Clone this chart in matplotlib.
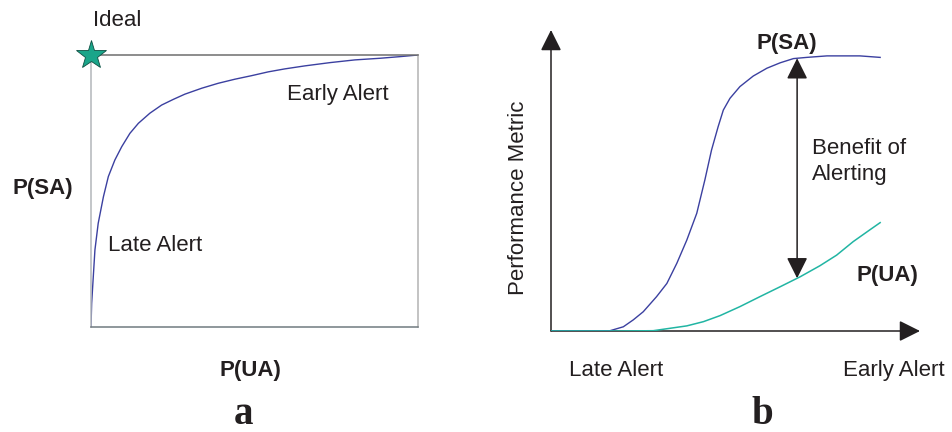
import matplotlib.pyplot as plt
import numpy as np

plt.rcParams['font.family'] = ['Liberation Sans', 'DejaVu Sans']

# panel a: P(SA) vs P(UA) trade-off curve (fractions of the box)
roc_ua = [0, 0.002, 0.007, 0.012, 0.022, 0.038, 0.053, 0.073, 0.094, 0.119,
          0.145, 0.180, 0.216, 0.252, 0.287, 0.339, 0.389, 0.440, 0.491,
          0.542, 0.593, 0.654, 0.731, 0.807, 0.884, 0.945, 1.0]
roc_sa = [0, 0.087, 0.185, 0.283, 0.381, 0.479, 0.553, 0.614, 0.663, 0.712,
          0.749, 0.786, 0.816, 0.837, 0.856, 0.878, 0.896, 0.911, 0.924,
          0.938, 0.949, 0.960, 0.972, 0.982, 0.988, 0.994, 1.0]
ideal = (0, 1)

# panel b: metrics vs alert time (late -> early)
sa_t = [0, 0.106, 0.160, 0.196, 0.223, 0.250, 0.286, 0.314, 0.341, 0.368,
        0.395, 0.417, 0.435, 0.453, 0.467, 0.485, 0.512, 0.548, 0.585,
        0.621, 0.657, 0.693, 0.748, 0.837, 0.892]
sa_v = [0, 0, 0.001, 0.014, 0.037, 0.064, 0.114, 0.158, 0.225, 0.302,
        0.391, 0.502, 0.601, 0.679, 0.734, 0.773, 0.812, 0.847, 0.873,
        0.891, 0.905, 0.909, 0.914, 0.914, 0.909]
ua_t = [0, 0.187, 0.277, 0.368, 0.413, 0.458, 0.512, 0.566, 0.621, 0.675,
        0.729, 0.774, 0.819, 0.864, 0.892]
ua_v = [0, 0, 0.001, 0.017, 0.031, 0.051, 0.081, 0.114, 0.147, 0.180,
        0.217, 0.252, 0.297, 0.336, 0.360]
benefit_t = 0.667

W, H = 953, 432
navy = '#3b40a0'
teal = '#21b5a3'
ink = '#231f20'

fig = plt.figure(figsize=(W / 100, H / 100), dpi=100)


def rect(x0, y0, x1, y1):
    # pixel box (top-left origin) -> figure fraction
    return [x0 / W, 1 - y1 / H, (x1 - x0) / W, (y1 - y0) / H]


def label(x, y, s, **kw):
    kw.setdefault('fontsize', 16)
    kw.setdefault('color', ink)
    fig.text(x / W, 1 - y / H, s, **kw)


# ---- panel a
ax1 = fig.add_axes(rect(91, 55, 418, 327))
ax1.plot(roc_ua, roc_sa, color=navy, lw=1.0, solid_joinstyle='round')
ax1.plot(*ideal, marker='*', ms=22, color='#1aa58a', mec='#0e4f42',
         mew=0.6, clip_on=False, zorder=5)
ax1.set_xlim(0, 1)
ax1.set_ylim(0, 1)
ax1.set_xticks([])
ax1.set_yticks([])
ax1.spines['top'].set_color('#6e6e6e')
ax1.spines['bottom'].set_color('#707a80')
ax1.spines['left'].set_color('#b3b7bb')
ax1.spines['right'].set_color('#b3b3b3')
for s in ax1.spines.values():
    s.set_linewidth(1.1)

label(93, 26, 'Ideal')
label(287, 100, 'Early Alert')
label(108, 251, 'Late Alert')
label(13, 194, 'P(SA)', fontweight='bold')
label(250, 376, 'P(UA)', fontweight='bold', ha='center')
label(244, 424, 'a', family='Liberation Serif', fontweight='bold',
      fontsize=28, ha='center')

# ---- panel b
ax2 = fig.add_axes(rect(551, 30, 920, 331))
ax2.set_xlim(0, 1)
ax2.set_ylim(0, 1)
ax2.axis('off')
ax2.plot(sa_t, sa_v, color=navy, lw=1.0, zorder=4, solid_joinstyle='round')
ax2.plot(ua_t, ua_v, color=teal, lw=1.1, zorder=4, solid_joinstyle='round')

axis_arrow = dict(arrowstyle='-|>,head_length=0.4,head_width=0.2',
                  color=ink, lw=1.1, mutation_scale=32,
                  shrinkA=0, shrinkB=0)
ax2.annotate('', xy=(1, 0), xytext=(0, 0), xycoords='axes fraction',
             arrowprops=axis_arrow)
ax2.annotate('', xy=(0, 1), xytext=(0, 0), xycoords='axes fraction',
             arrowprops=axis_arrow)

top = np.interp(benefit_t, sa_t, sa_v)
bot = np.interp(benefit_t, ua_t, ua_v)
ax2.annotate('', xy=(benefit_t, top), xytext=(benefit_t, bot),
             arrowprops=dict(arrowstyle='<|-|>,head_length=0.4,head_width=0.2',
                             color=ink, lw=1.1, mutation_scale=32,
                             shrinkA=0, shrinkB=0))

label(757, 49, 'P(SA)', fontweight='bold')
label(857, 281, 'P(UA)', fontweight='bold')
label(812, 154, 'Benefit of')
label(812, 180, 'Alerting')
label(519, 198, 'Performance Metric', rotation=90, ha='center', va='center')
label(616, 376, 'Late Alert', ha='center')
label(894, 376, 'Early Alert', ha='center')
label(762, 424, 'b', family='Liberation Serif', fontweight='bold',
      fontsize=28, ha='center')

fig.savefig('out.png', dpi=100)
